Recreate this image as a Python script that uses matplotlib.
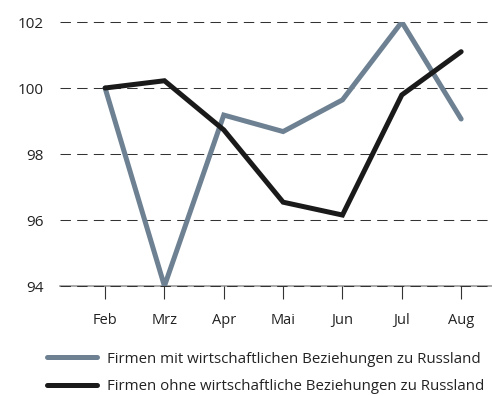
import matplotlib
matplotlib.use('Agg')
import matplotlib.pyplot as plt

# Monatswerte, Index (Feb = 100)
monate = ['Feb', 'Mrz', 'Apr', 'Mai', 'Jun', 'Jul', 'Aug']
mit_beziehungen = [100.0, 94.0, 99.18, 98.68, 99.64, 102.0, 99.06]
ohne_beziehungen = [100.0, 100.22, 98.73, 96.54, 96.15, 99.79, 101.1]
y_ticks = [94, 96, 98, 100, 102]

label_mit = 'Firmen mit wirtschaftlichen Beziehungen zu Russland'
label_ohne = 'Firmen ohne wirtschaftliche Beziehungen zu Russland'

plt.rcParams['font.family'] = ['Open Sans', 'DejaVu Sans']

fig = plt.figure(figsize=(4.92, 3.96), dpi=100)
ax = fig.add_axes([60 / 492, 1 - 286 / 396, 1 - 60 / 492, (286 - 22) / 396])

x = list(range(len(monate)))
ax.plot(x, mit_beziehungen, color='#6d8193', linewidth=3.6,
        solid_joinstyle='miter', solid_capstyle='round', label=label_mit, zorder=3)
ax.plot(x, ohne_beziehungen, color='#1a1a1a', linewidth=3.6,
        solid_joinstyle='miter', solid_capstyle='round', label=label_ohne, zorder=4)

# gestrichelte Hilfslinien
for v in y_ticks:
    if v == 94:
        ax.axhline(v, color='#9a9a9a', linewidth=1.2, zorder=1, clip_on=False)
    ax.axhline(v, color='#333333', linewidth=0.75, linestyle=(0, (10, 6)),
               zorder=2, clip_on=False)

ax.set_ylim(94, 102)
ax.set_xlim(-0.76, 6.52)
ax.set_yticks(y_ticks)
ax.set_xticks(x)
ax.set_xticklabels(monate)

for s in ax.spines.values():
    s.set_visible(False)

ax.tick_params(axis='y', length=0, pad=12, labelsize=11, labelcolor='#222222')
ax.tick_params(axis='x', length=9.5, width=0.8, color='#333333', pad=10,
               labelsize=10.5, labelcolor='#222222', direction='out')

fig.legend(loc='upper left', bbox_to_anchor=(47 / 492, 0.112), frameon=False,
           fontsize=10.8, borderpad=0, borderaxespad=0, handlelength=3.35,
           handletextpad=0.65, labelspacing=0.82, labelcolor='#222222')

fig.savefig('out.png', dpi=100)
